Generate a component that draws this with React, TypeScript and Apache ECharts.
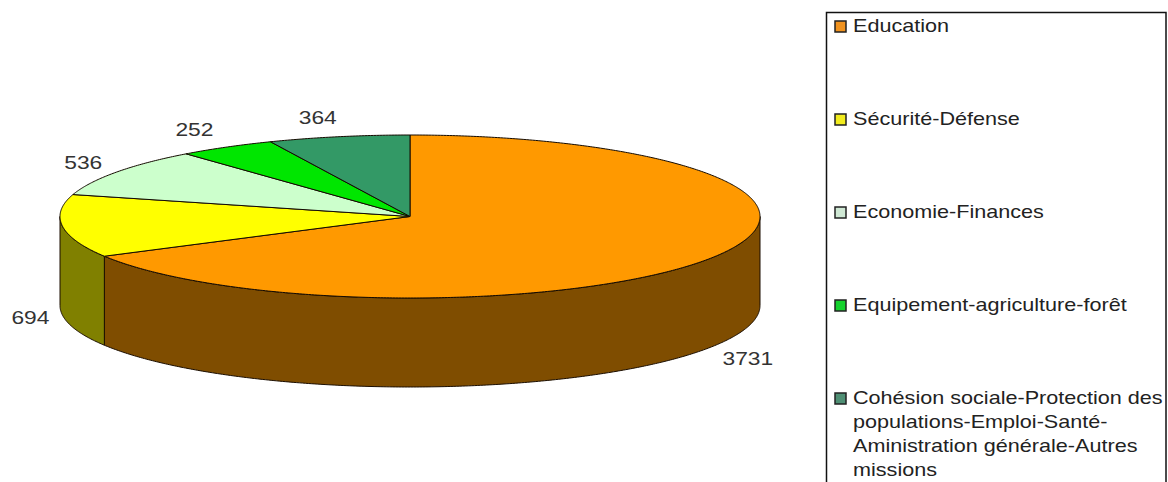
import React, { useEffect, useRef } from "react";
import * as echarts from "echarts";

const categories = [
  "Education",
  "Sécurité-Défense",
  "Economie-Finances",
  "Equipement-agriculture-forêt",
  "Cohésion sociale-Protection des\npopulations-Emploi-Santé-\nAministration générale-Autres\nmissions",
];
const values = [3731, 694, 536, 252, 364];
const topColors = ["#FF9900", "#FFFF00", "#CCFFCC", "#00E600", "#339966"];
const wallColors = ["#7F4D00", "#808000", "#668066", "#007300", "#1A4D33"];
const legendColors = ["#F0921E", "#F2EC1E", "#CFE8D4", "#14D22D", "#4F8F74"];
const legendRowTops = [26, 119, 212, 305, 398];

const CX = 410;
const CY = 216.5;
const RX = 350;
const RY = 81.5;
const DEPTH = 89;
const STRETCH = 1.2;
const LABEL_OFFSETS = [
  [36, 11],
  [-32, 2],
  [-33, -10],
  [-32, -18],
  [-21, -19],
];

const total = values.reduce((a, b) => a + b, 0);
const starts = values.map((_, i) =>
  values.slice(0, i).reduce((a, b) => a + b, 0) / total * 360
);

const pt = (deg: number, dy = 0): number[] => {
  const t = (deg * Math.PI) / 180;
  return [CX + RX * Math.sin(t), CY - RY * Math.cos(t) + dy];
};
const arc = (a: number, b: number, dy = 0): number[][] => {
  const out: number[][] = [];
  const n = Math.max(2, Math.ceil((b - a) / 0.5));
  for (let k = 0; k <= n; k++) out.push(pt(a + ((b - a) * k) / n, dy));
  return out;
};

const renderSlice = (params: any, api: any) => {
  const i = params.dataIndex;
  const sweep = (api.value(0) / total) * 360;
  const a = starts[i];
  const b = a + sweep;
  const children: any[] = [];
  const wa = Math.max(a, 90);
  const wb = Math.min(b, 270);
  if (wb > wa) {
    children.push({
      type: "polygon",
      shape: { points: [...arc(wa, wb), ...arc(wa, wb, DEPTH).reverse()] },
      style: { fill: wallColors[i], stroke: "#1a0d00", lineWidth: 1 },
    });
  }
  children.push({
    type: "polygon",
    shape: { points: [[CX, CY], ...arc(a, b)] },
    style: { fill: topColors[i], stroke: "#140a00", lineWidth: 1, lineJoin: "round" },
  });
  const mid = (a + b) / 2;
  const onFront = mid > 90 && mid < 270;
  const p = pt(mid, onFront ? DEPTH : 0);
  children.push({
    type: "text",
    x: p[0] + LABEL_OFFSETS[i][0],
    y: p[1] + LABEL_OFFSETS[i][1],
    scaleX: STRETCH,
    style: {
      text: String(api.value(0)),
      font: "19px 'Liberation Sans', Arial, sans-serif",
      fill: "#333333",
      textAlign: "center",
      textVerticalAlign: "middle",
    },
  });
  return { type: "group", children };
};

const legendGraphics = () => {
  const els: any[] = [
    {
      type: "rect",
      shape: { x: 826.5, y: 12.5, width: 339.5, height: 480 },
      style: { fill: "#fff", stroke: "#111", lineWidth: 1.5 },
      z: 0,
    },
  ];
  categories.forEach((name, i) => {
    els.push({
      type: "rect",
      shape: { x: 835, y: legendRowTops[i] - 5, width: 11, height: 11 },
      style: { fill: legendColors[i], stroke: "#222", lineWidth: 1.5 },
      z: 1,
    });
    els.push({
      type: "text",
      x: 853,
      y: legendRowTops[i] - 12,
      scaleX: STRETCH,
      z: 1,
      style: {
        text: name,
        font: "18px 'Liberation Sans', Arial, sans-serif",
        lineHeight: 24,
        fill: "#222222",
        textAlign: "left",
        textVerticalAlign: "top",
      },
    });
  });
  return els;
};

export default function App() {
  const ref = useRef<HTMLDivElement>(null);
  useEffect(() => {
    const chart = echarts.init(ref.current!, undefined, { renderer: "svg" });
    chart.setOption({
      animation: false,
      backgroundColor: "#ffffff",
      graphic: { elements: legendGraphics() },
      series: [
        {
          type: "custom",
          coordinateSystem: "none",
          silent: true,
          clip: false,
          data: values.map((v) => [v]),
          renderItem: renderSlice,
        },
      ],
    });
    return () => chart.dispose();
  }, []);
  return (
    <div
      ref={ref}
      style={{ position: "absolute", left: 0, top: 0, width: 1168, height: 482, overflow: "hidden" }}
    />
  );
}
